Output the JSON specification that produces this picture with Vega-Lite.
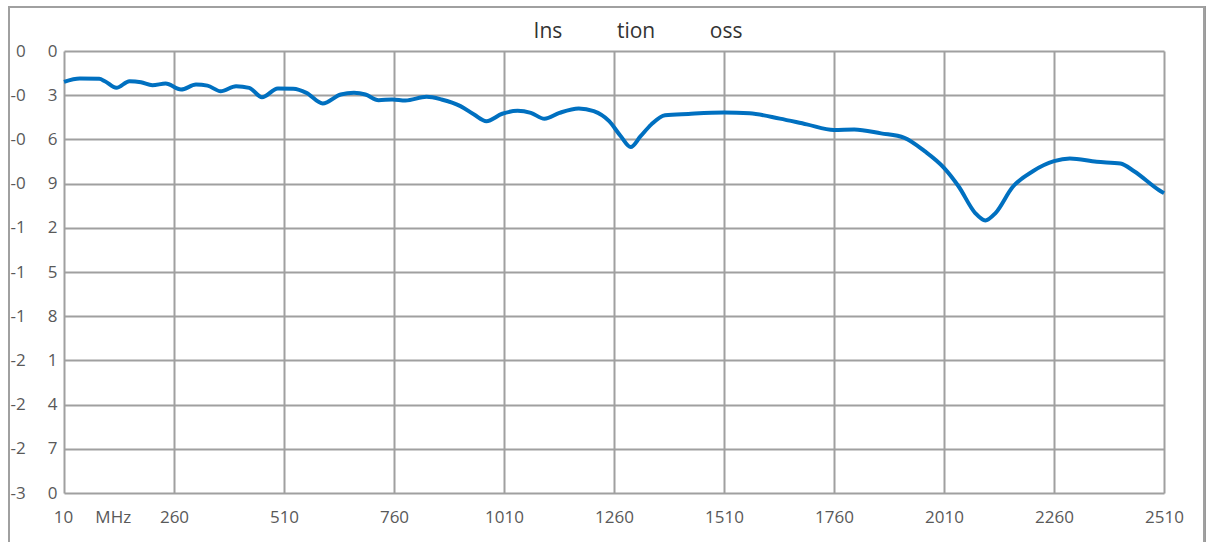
{
  "$schema": "https://vega.github.io/schema/vega-lite/v6.json",
  "width": 1100,
  "height": 442,
  "autosize": {"type": "none"},
  "padding": {"left": 64, "top": 51, "right": 45, "bottom": 49},
  "background": "white",
  "title": {
    "text": "Ins\u00a0\u00a0\u00a0\u00a0\u00a0\u00a0\u00a0\u00a0\u00a0\u00a0tion\u00a0\u00a0\u00a0\u00a0\u00a0\u00a0\u00a0\u00a0\u00a0\u00a0oss",
    "font": "Open Sans",
    "fontSize": 21,
    "fontWeight": "normal",
    "color": "#333333",
    "anchor": "middle",
    "frame": "group",
    "baseline": "alphabetic",
    "dx": 24,
    "offset": -53
  },
  "config": {
    "view": {"stroke": null},
    "axis": {
      "labelFont": "Open Sans",
      "labelFontSize": 17,
      "labelColor": "#595959",
      "grid": true,
      "gridColor": "#a0a0a0",
      "gridWidth": 2,
      "gridOpacity": 1,
      "domain": false,
      "ticks": false,
      "title": null,
      "labelOverlap": false,
      "labelFlush": false,
      "labelBound": false
    }
  },
  "data": {
    "values": [
      {"mhz": 10, "loss": -0.21},
      {"mhz": 46, "loss": -0.187},
      {"mhz": 90, "loss": -0.189},
      {"mhz": 103, "loss": -0.205},
      {"mhz": 129, "loss": -0.25},
      {"mhz": 159, "loss": -0.205},
      {"mhz": 185, "loss": -0.212},
      {"mhz": 211, "loss": -0.232},
      {"mhz": 241, "loss": -0.221},
      {"mhz": 276, "loss": -0.262},
      {"mhz": 310, "loss": -0.228},
      {"mhz": 336, "loss": -0.235},
      {"mhz": 366, "loss": -0.273},
      {"mhz": 401, "loss": -0.239},
      {"mhz": 431, "loss": -0.25},
      {"mhz": 460, "loss": -0.314},
      {"mhz": 496, "loss": -0.255},
      {"mhz": 531, "loss": -0.257},
      {"mhz": 561, "loss": -0.284},
      {"mhz": 598, "loss": -0.356},
      {"mhz": 639, "loss": -0.295},
      {"mhz": 669, "loss": -0.284},
      {"mhz": 695, "loss": -0.295},
      {"mhz": 725, "loss": -0.334},
      {"mhz": 756, "loss": -0.329},
      {"mhz": 786, "loss": -0.336},
      {"mhz": 834, "loss": -0.311},
      {"mhz": 868, "loss": -0.329},
      {"mhz": 911, "loss": -0.374},
      {"mhz": 942, "loss": -0.431},
      {"mhz": 970, "loss": -0.476},
      {"mhz": 1006, "loss": -0.426},
      {"mhz": 1041, "loss": -0.406},
      {"mhz": 1071, "loss": -0.42},
      {"mhz": 1102, "loss": -0.46},
      {"mhz": 1136, "loss": -0.42},
      {"mhz": 1180, "loss": -0.39},
      {"mhz": 1214, "loss": -0.408},
      {"mhz": 1249, "loss": -0.476},
      {"mhz": 1275, "loss": -0.577},
      {"mhz": 1298, "loss": -0.652},
      {"mhz": 1320, "loss": -0.58},
      {"mhz": 1345, "loss": -0.498},
      {"mhz": 1376, "loss": -0.436},
      {"mhz": 1429, "loss": -0.427},
      {"mhz": 1510, "loss": -0.418},
      {"mhz": 1568, "loss": -0.423},
      {"mhz": 1637, "loss": -0.459},
      {"mhz": 1698, "loss": -0.498},
      {"mhz": 1760, "loss": -0.536},
      {"mhz": 1806, "loss": -0.532},
      {"mhz": 1867, "loss": -0.559},
      {"mhz": 1920, "loss": -0.589},
      {"mhz": 1966, "loss": -0.68},
      {"mhz": 2010, "loss": -0.793},
      {"mhz": 2043, "loss": -0.918},
      {"mhz": 2081, "loss": -1.1},
      {"mhz": 2104, "loss": -1.15},
      {"mhz": 2127, "loss": -1.1},
      {"mhz": 2166, "loss": -0.923},
      {"mhz": 2212, "loss": -0.816},
      {"mhz": 2260, "loss": -0.748},
      {"mhz": 2296, "loss": -0.73},
      {"mhz": 2357, "loss": -0.752},
      {"mhz": 2411, "loss": -0.764},
      {"mhz": 2442, "loss": -0.816},
      {"mhz": 2499, "loss": -0.945},
      {"mhz": 2510, "loss": -0.965}
    ]
  },
  "layer": [
    {
      "mark": {"type": "rect", "fill": null, "stroke": "#a0a0a0", "strokeWidth": 2, "clip": false},
      "encoding": {
        "x": {"datum": -115, "type": "quantitative"},
        "x2": {"datum": 2601},
        "y": {"datum": 0.2986, "type": "quantitative"},
        "y2": {"datum": -3.6}
      }
    },
    {
      "mark": {"type": "line", "color": "#0070C0", "strokeWidth": 4, "interpolate": "monotone"},
      "encoding": {
        "x": {
          "field": "mhz",
          "type": "quantitative",
          "scale": {"domain": [10, 2510], "nice": false, "zero": false},
          "axis": {
            "grid": true,
            "values": [10, 260, 510, 760, 1010, 1260, 1510, 1760, 2010, 2260, 2510],
            "labelExpr": "datum.value == 10 ? '10\u00a0\u00a0\u00a0\u00a0\u00a0MHz' : format(datum.value, 'd')",
            "labelOffset": {"condition": {"test": "datum.value == 10", "value": 28}, "value": 0},
            "labelPadding": 16,
            "labelAlign": "center"
          }
        },
        "y": {
          "field": "loss",
          "type": "quantitative",
          "scale": {"domain": [-3, 0], "nice": false, "zero": false},
          "axis": {
            "grid": true,
            "values": [0, -0.3, -0.6, -0.9, -1.2, -1.5, -1.8, -2.1, -2.4, -2.7, -3],
            "labelExpr": "(datum.value < 0 ? '-' : '') + floor(abs(datum.value)) + '\u00a0\u00a0\u00a0\u00a0\u00a0' + (round(abs(datum.value) * 10) % 10)",
            "labelPadding": 7
          }
        }
      }
    }
  ]
}
